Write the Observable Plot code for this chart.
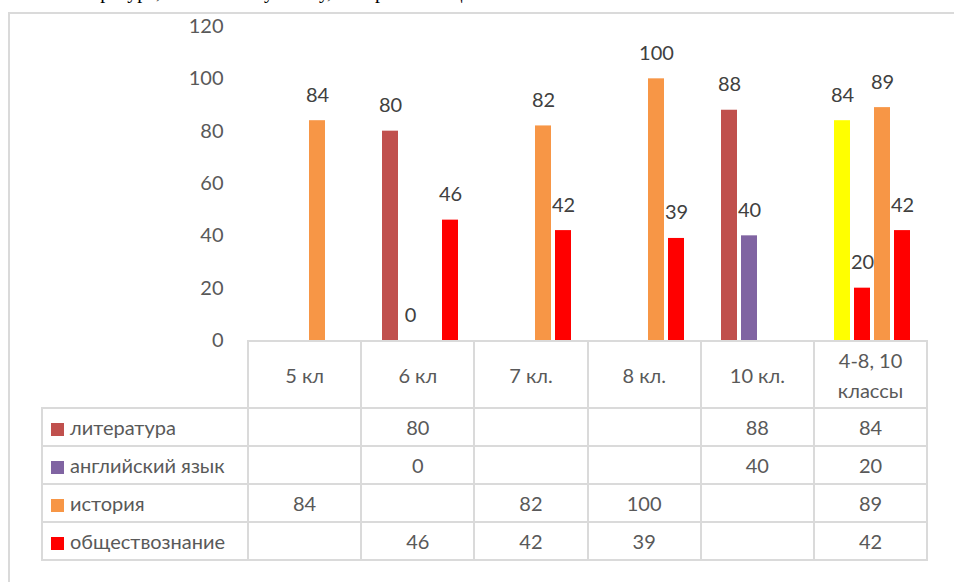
<!DOCTYPE html>
<html>
<head>
<meta charset="utf-8">
<script src="https://cdn.jsdelivr.net/npm/d3@7"></script>
<script src="https://cdn.jsdelivr.net/npm/@observablehq/plot@0.6"></script>
<style>
  html, body { margin: 0; padding: 0; background: #fff; }
  #wrap { position: relative; width: 954px; height: 582px; overflow: hidden; background: #fff; font-family: Lato, "Open Sans", sans-serif; }
  #topline { position: absolute; left: 62px; top: -21px; font-family: "Liberation Serif", serif; font-size: 20px; line-height: 24px; color: #000; white-space: nowrap; }
  #frame { position: absolute; left: 8px; top: 12px; width: 1200px; height: 1200px; border-left: 2px solid #DADADA; border-top: 2px solid #DADADA; box-sizing: border-box; }
  #plot { position: absolute; left: 0; top: 0; }
  table { position: absolute; left: 41px; top: 340px; border-collapse: collapse; table-layout: fixed; color: #595959; font-size: 20px; }
  td { border: 2px solid #DADADA; padding: 0; text-align: center; height: 36px; line-height: 24px; }
  tr.head td { height: 65px; }
  td .hl { display: block; line-height: 30px; }
  td.corner { border-top: none; border-left: none; }
  td.lab { text-align: left; padding-left: 8px; white-space: nowrap; }
  .key { display: inline-block; width: 13px; height: 13px; margin-right: 6px; vertical-align: -1px; }
</style>
</head>
<body>
<div id="wrap">
  <div id="topline"></div>
  <div id="frame"></div>
  <div id="plot"></div>
  <table id="tbl"></table>
</div>
<script>
// ---- data ----
const topLineText = "литературе, английскому языку, истории и обществознанию";
const categories = ["5 кл", "6 кл", "7 кл.", "8 кл.", "10 кл.", "4-8, 10 классы"];
const categoryLabels = [["5 кл"], ["6 кл"], ["7 кл."], ["8 кл."], ["10 кл."], ["4-8, 10", "классы"]];
const series = ["литература", "английский язык", "история", "обществознание"];
const literature = [null, 80, null, null, 88, 84];
const english    = [null, 0,  null, null, 40, 20];
const history    = [84, null, 82, 100, null, 89];
const social     = [null, 46, 42, 39, null, 42];
const seriesColors = ["#C0504D", "#8064A2", "#F79646", "#FF0000"];
// individually recoloured points: [categoryIndex, seriesIndex, colour]
const pointColors = [[5, 0, "#FFFF00"], [5, 1, "#FF0000"]];
const yTicks = [0, 20, 40, 60, 80, 100, 120];

const values = [literature, english, history, social];

document.getElementById("topline").textContent = topLineText;

const data = [];
categories.forEach((c, i) => {
  series.forEach((s, j) => {
    const v = values[j][i];
    if (v == null) return;
    const o = pointColors.find(p => p[0] === i && p[1] === j);
    data.push({category: c, series: s, value: v, color: o ? o[2] : seriesColors[j]});
  });
});

const chart = Plot.plot({
  width: 954,
  height: 341,
  marginLeft: 247,
  marginRight: 28,
  marginTop: 26,
  marginBottom: 1,
  style: {fontFamily: "Lato, 'Open Sans', sans-serif", fontSize: "20px", color: "#595959", background: "transparent", overflow: "visible"},
  fx: {domain: categories, padding: 0, axis: null},
  x: {domain: series, paddingInner: 0.2, paddingOuter: 0.846, align: 0.57, axis: null},
  y: {domain: [0, 120], ticks: yTicks, tickSize: 0, tickPadding: 25, label: null},
  color: {type: "identity"},
  marks: [
    Plot.barY(data, {fx: "category", x: "series", y: "value", fill: "color"}),
    Plot.text(data, {fx: "category", x: "series", y: "value", text: d => String(d.value), dy: -19, lineAnchor: "bottom", fill: "#404040", fontSize: 20})
  ]
});
document.getElementById("plot").appendChild(chart);

// ---- data table ----
const tbl = document.getElementById("tbl");
const cg = document.createElement("colgroup");
[206, ...categories.map(() => 113.2)].forEach(w => {
  const col = document.createElement("col");
  col.style.width = w + "px";
  cg.appendChild(col);
});
tbl.appendChild(cg);
const head = document.createElement("tr");
head.className = "head";
const corner = document.createElement("td");
corner.className = "corner";
head.appendChild(corner);
categoryLabels.forEach(lines => {
  const td = document.createElement("td");
  lines.forEach(l => {
    const d = document.createElement("span");
    d.className = "hl";
    d.textContent = l;
    td.appendChild(d);
  });
  head.appendChild(td);
});
tbl.appendChild(head);
series.forEach((s, j) => {
  const tr = document.createElement("tr");
  const lab = document.createElement("td");
  lab.className = "lab";
  const key = document.createElement("span");
  key.className = "key";
  key.style.background = seriesColors[j];
  lab.appendChild(key);
  lab.appendChild(document.createTextNode(s));
  tr.appendChild(lab);
  categories.forEach((c, i) => {
    const td = document.createElement("td");
    const v = values[j][i];
    td.textContent = v == null ? "" : String(v);
    tr.appendChild(td);
  });
  tbl.appendChild(tr);
});
</script>
</body>
</html>
